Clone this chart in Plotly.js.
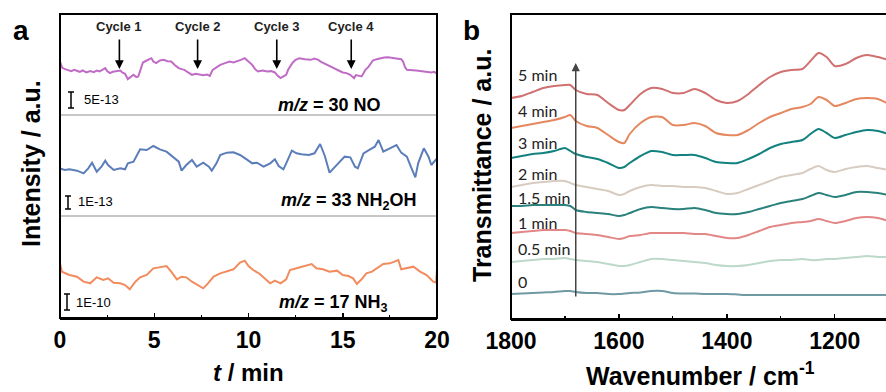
<!DOCTYPE html>
<html>
<head>
<meta charset="utf-8">
<script src="https://cdn.plot.ly/plotly-3.0.1.min.js"></script>
<style>html,body{margin:0;padding:0;background:#fff}#chart{width:886px;height:392px}</style>
</head>
<body>
<div id="chart"></div>
<script>
// ---------- Panel a: mass-spectrometry signals (a.u.) ----------
const tNO = [0,0.12,0.27,0.45,0.6,0.75,0.9,1.05,1.2,1.4,1.6,1.8,1.95,2.1,2.25,2.4,2.5,2.65,2.8,3.0,3.2,3.3,3.45,3.6,3.75,3.9,4.05,4.15,4.3,4.4,4.6,4.85,4.95,5.1,5.3,5.5,5.7,5.9,6.1,6.3,6.45,6.6,6.8,7.0,7.2,7.4,7.6,7.8,7.95,8.1,8.3,8.5,8.75,9.0,9.2,9.4,9.6,9.8,10.0,10.2,10.35,10.5,10.75,11.0,11.2,11.4,11.55,11.7,11.85,12.0,12.1,12.2,12.35,12.5,12.7,13.0,13.3,13.5,13.7,13.85,14.0,14.2,14.35,14.5,14.75,15.0,15.2,15.4,15.5,15.6,15.7,15.8,16.0,16.1,16.2,16.35,16.45,16.6,16.8,17.0,17.2,17.4,17.7,17.95,18.1,18.2,18.3,18.4,18.65,18.9,19.2,19.45,19.7,19.85,20];
const sNO = [115,96,92,90,86,90,87,84,88,82,86,83,88,85,90,95,86,80,84,86,88,82,78,62,70,75,68,70,95,112,118,125,115,110,118,120,116,115,104,95,92,90,82,75,78,75,74,76,72,90,98,105,110,115,112,115,120,125,115,105,92,85,88,85,86,82,72,65,70,75,90,100,112,120,125,122,120,124,120,114,110,105,100,95,88,82,80,75,70,65,74,72,70,80,90,98,105,118,122,125,127,128,126,125,122,115,98,90,90,88,86,85,82,84,78];

const tNH2OH = [0,0.25,0.5,0.9,1.25,1.5,1.7,1.95,2.2,2.4,2.55,2.85,3.2,3.45,3.6,3.9,4.25,4.6,4.95,5.3,5.65,6.0,6.3,6.45,6.7,7.0,7.25,7.6,7.9,8.05,8.3,8.5,8.85,9.2,9.55,9.9,10.2,10.45,10.8,11.15,11.4,11.6,11.85,12.0,12.3,12.55,12.8,13.2,13.5,13.8,14.05,14.3,14.6,14.85,15.1,15.4,15.65,15.8,16.1,16.45,16.7,16.9,17.15,17.5,17.85,18.1,18.4,18.65,18.85,19.0,19.3,19.55,19.7,20];
const sNH2OH = [155,150,152,148,140,155,172,145,160,178,165,150,155,152,170,175,212,210,222,212,205,190,175,148,165,180,160,172,160,148,170,195,202,203,195,182,170,172,160,170,182,162,152,170,208,200,197,195,200,228,192,142,160,175,190,188,160,155,200,212,220,240,205,215,225,202,190,155,128,170,215,190,165,185];

const tNH3 = [0,0.1,0.5,0.9,1.25,1.6,1.95,2.3,2.55,2.85,3.2,3.45,3.7,4.0,4.25,4.6,4.95,5.3,5.65,5.9,6.2,6.45,6.7,7.0,7.35,7.6,7.85,8.15,8.5,8.85,9.2,9.55,9.8,10.0,10.25,10.6,10.95,11.15,11.4,11.7,12.0,12.2,12.55,12.9,13.35,13.6,13.95,14.3,14.7,15.0,15.3,15.55,15.75,16.0,16.25,16.55,16.8,17.15,17.5,17.95,18.1,18.4,18.75,19.1,19.45,19.8,19.95,20];
const sNH3 = [230,205,195,190,175,170,188,180,185,172,170,165,152,175,188,195,215,218,222,205,182,190,188,175,162,155,170,190,200,205,212,232,238,222,210,198,182,170,178,170,182,210,215,220,228,215,212,205,208,195,192,185,168,182,200,205,215,228,230,240,212,215,220,205,195,175,172,212];

const cycleTimes = [3.15, 7.3, 11.5, 15.45];
const cycleLabels = ["Cycle 1", "Cycle 2", "Cycle 3", "Cycle 4"];
const speciesLabels = ["<b><i>m/z</i> = 30 NO</b>", "<b><i>m/z</i> = 33 NH<sub>2</sub>OH</b>", "<b><i>m/z</i> = 17 NH<sub>3</sub></b>"];
const scaleLabels = ["5E-13", "1E-13", "1E-10"];
const tTicks = [0, 5, 10, 15, 20];

// ---------- Panel b: IR transmittance spectra (a.u., offset) ----------
const wavenumber = [1800,1780,1760,1740,1720,1700,1690,1680,1660,1640,1620,1600,1590,1580,1560,1540,1520,1500,1480,1460,1440,1420,1400,1380,1360,1340,1320,1300,1280,1260,1245,1230,1215,1200,1180,1160,1140,1120,1100];
const s5min  = [222,224,228,232,234,235,235,230,226,225,217,210,210,215,226,232,231,227,227,231,227,220,217,219,226,235,243,248,250,251,259,267,263,254,256,262,265,263,260];
const s4min  = [192,194,196,198,200,203,205,199,194,192,185,178,177,186,197,203,203,195,195,197,194,187,185,185,190,197,203,207,211,213,216,223,220,214,217,221,222,221,216];
const s3min  = [162,164,166,167,169,172,169,166,163,161,157,152,153,157,164,169,168,165,165,165,162,158,157,157,161,166,172,176,178,180,186,191,187,182,185,188,190,189,186];
const s2min  = [133,135,137,138,139,139,137,135,133,131,129,125,126,129,133,135,134,134,133,133,132,129,126,127,131,135,139,143,145,147,151,154,150,148,151,153,154,152,150];
const s15min = [114,114,115,115,115,115,114,110,108,107,106,104,105,107,111,113,112,111,111,112,110,107,106,106,108,111,114,117,119,121,124,127,125,123,125,128,128,127,125];
const s1min  = [87,88,89,90,90,90,89,87,86,85,83,81,82,84,85,87,87,87,87,86,86,84,82,82,85,89,93,95,97,98,99,101,99,97,99,102,103,102,99];
const s05min = [58,59,60,61,61,62,61,60,59,58,56,54,54,55,58,61,61,60,59,58,57,55,54,54,55,57,59,60,60,61,60,60,61,61,62,63,64,63,63];
const s0min  = [26,26.5,27,27.5,28,29,29,28,27,27,26,26,26.5,27,27.5,29,29,27,26.5,26.5,26,26,26,25.5,25,25,25,25,25,25,25,25,25,25,25,25,25,25,25];
const spectraLabels = ["5 min","4 min","3 min","2 min","1.5 min","1 min","0.5 min","0"];
const spectraLabelY = [246, 210, 178, 147, 123, 98, 72, 39];
const wnTicks = [1800, 1600, 1400, 1200];

// ---------- styling / layout ----------
const W = 886, H = 392;
const px = x => x / W, py = y => 1 - y / H;
const FONT = "Liberation Sans, Arial, sans-serif";

const traces = [
  {x: tNO, y: sNO, xaxis: 'x', yaxis: 'y', mode: 'lines', line: {color: '#c06cc6', width: 2}},
  {x: tNH2OH, y: sNH2OH, xaxis: 'x', yaxis: 'y2', mode: 'lines', line: {color: '#5b7db9', width: 2}},
  {x: tNH3, y: sNH3, xaxis: 'x', yaxis: 'y3', mode: 'lines', line: {color: '#f28b5e', width: 2}},
];
const spectra = [s5min, s4min, s3min, s2min, s15min, s1min, s05min, s0min];
const specColors = ['#d07070', '#e5875f', '#13827f', '#d8cbc0', '#2b827d', '#e38686', '#bcd9c9', '#6f9aa3'];
spectra.forEach((s, i) => traces.push({x: wavenumber, y: s, xaxis: 'x2', yaxis: 'y4', mode: 'lines', line: {color: specColors[i], width: 2, shape: 'spline', smoothing: 0.7}}));

const yA = [py(115), py(14)], yB = [py(216), py(115)], yC = [py(318), py(216)];

const shapes = [];
shapes.push({type: 'rect', xref: 'paper', yref: 'paper', x0: px(60), x1: px(437), y0: py(318), y1: py(14), line: {color: '#000', width: 2}});
shapes.push({type: 'rect', xref: 'paper', yref: 'paper', x0: px(511), x1: px(900), y0: py(319), y1: py(14), line: {color: '#000', width: 2}});
[115, 216].forEach(y => shapes.push({type: 'line', xref: 'paper', yref: 'paper', x0: px(61), x1: px(436), y0: py(y), y1: py(y), line: {color: '#b5b5b5', width: 1.5}}));
const bars = [[71, 92, 108], [68, 196, 209], [67, 294, 310]];
bars.forEach(([x, a, b]) => {
  shapes.push({type: 'line', xref: 'paper', yref: 'paper', x0: px(x), x1: px(x), y0: py(a), y1: py(b), line: {color: '#000', width: 1.5}});
  shapes.push({type: 'line', xref: 'paper', yref: 'paper', x0: px(x - 3), x1: px(x + 3), y0: py(a), y1: py(a), line: {color: '#000', width: 1.5}});
  shapes.push({type: 'line', xref: 'paper', yref: 'paper', x0: px(x - 3), x1: px(x + 3), y0: py(b), y1: py(b), line: {color: '#000', width: 1.5}});
});

const ann = [];
const txt = (text, x, y, size, opts = {}) => Object.assign({text, x: px(x), y: py(y), xref: 'paper', yref: 'paper', xanchor: 'center', yanchor: 'middle', showarrow: false, font: {family: FONT, size, color: '#000'}}, opts);
ann.push(txt('<b>a</b>', 21, 30, 28));
ann.push(txt('<b>b</b>', 472, 30, 28));
ann.push(txt('<b>Intensity / a.u.</b>', 31, 164, 25, {textangle: -90}));
ann.push(txt('<b>Transmittance / a.u.</b>', 482, 166, 25, {textangle: -90}));
ann.push(txt('<b><i>t</i> / min</b>', 249, 372, 24));
ann.push(txt('<b>Wavenumber / cm<sup>-1</sup></b>', 700, 374, 25));
[[383, 105], [419, 202], [390, 303]].forEach(([x, y], i) => ann.push(txt(speciesLabels[i], x, y, 18, {xanchor: 'right'})));
[[82, 100], [76, 202], [74, 302]].forEach(([x, y], i) => ann.push(txt(scaleLabels[i], x, y, 13, {xanchor: 'left'})));
cycleTimes.forEach((t, i) => {
  ann.push({text: '<b>' + cycleLabels[i] + '</b>', x: t, y: py(26), xref: 'x', yref: 'paper', xanchor: 'center', yanchor: 'middle', showarrow: false, font: {family: FONT, size: 13, color: '#222'}});
  ann.push({text: '', x: t, y: py(69), xref: 'x', yref: 'paper', showarrow: true, ax: 0, ay: -31, arrowhead: 2, arrowsize: 1.1, arrowwidth: 1.6, arrowcolor: '#000'});
});
spectraLabels.forEach((l, i) => ann.push({text: l, x: 1790, y: spectraLabelY[i], xref: 'x2', yref: 'y4', xanchor: 'left', yanchor: 'middle', showarrow: false, font: {family: 'Lato, sans-serif', size: 16, color: '#222'}}));
ann.push({text: '', x: 1680, y: 257, ax: 1680, ay: 22, xref: 'x2', yref: 'y4', axref: 'x2', ayref: 'y4', showarrow: true, arrowhead: 2, arrowsize: 1.1, arrowwidth: 1.5, arrowcolor: '#444'});

const tickFont = {family: FONT, size: 23, color: '#000', weight: 'bold'};
const layout = {
  width: W, height: H,
  margin: {l: 0, r: 0, t: 0, b: 0},
  paper_bgcolor: '#fff', plot_bgcolor: 'rgba(0,0,0,0)',
  showlegend: false,
  xaxis: {domain: [px(60), px(437)], range: [0, 20], anchor: 'y3', tickvals: tTicks, ticks: 'inside', ticklen: 5, tickwidth: 1.5, tickcolor: '#000',
          minor: {dtick: 2.5, ticks: 'inside', ticklen: 3, tickwidth: 1.2, tickcolor: '#000'},
          showgrid: false, zeroline: false, showline: true, linewidth: 2, linecolor: '#000', tickfont: tickFont},
  yaxis: {domain: yA, range: [-46, 258], anchor: 'x', visible: false},
  yaxis2: {domain: yB, range: [12, 315], anchor: 'x', visible: false},
  yaxis3: {domain: yC, range: [66, 372], anchor: 'x', visible: false},
  xaxis2: {domain: [px(511), 1], range: [1800, 1105], anchor: 'y4', tickvals: wnTicks, ticks: 'inside', ticklen: 5, tickwidth: 1.5, tickcolor: '#000',
           minor: {dtick: 100, ticks: 'inside', ticklen: 3, tickwidth: 1.2, tickcolor: '#000'},
           showgrid: false, zeroline: false, showline: true, linewidth: 2, linecolor: '#000', tickfont: tickFont},
  yaxis4: {domain: [py(319), py(14)], range: [1, 306], anchor: 'x2', visible: false},
  shapes, annotations: ann
};
Plotly.newPlot('chart', traces, layout, {staticPlot: true, displayModeBar: false});
</script>
</body>
</html>
